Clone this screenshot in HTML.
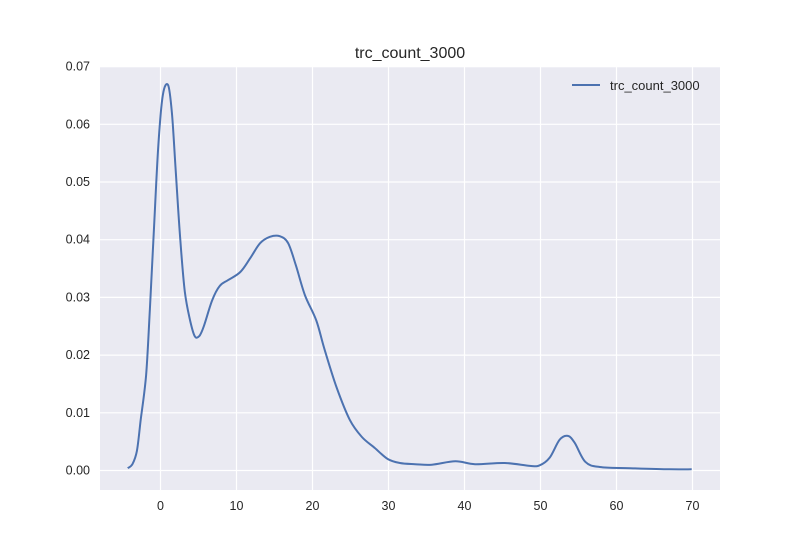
<!DOCTYPE html>
<html><head><meta charset="utf-8"><style>
body{margin:0;background:#fff;font-family:"Liberation Sans",sans-serif}
</style></head><body>
<svg id="c" width="800" height="550" xmlns="http://www.w3.org/2000/svg" font-family="Liberation Sans, sans-serif"></svg>
<script>
const xs=[-4.3,-3.7,-3.1,-2.6,-1.9,-1.4,-0.9,-0.3,0.3,1.0,1.5,2.0,2.6,3.2,3.9,4.5,5.1,5.7,6.8,7.8,8.9,10.5,11.8,13.1,14.4,15.7,16.8,17.8,19.0,20.5,21.6,23.2,24.9,26.5,28.2,29.9,31.5,33.5,35.7,38.8,41.4,45.3,48.6,49.9,51.2,52.5,53.6,54.5,55.9,57.8,61.8,67.0,69.9];
const ys=[0.0004,0.0011,0.0034,0.0088,0.0165,0.028,0.041,0.056,0.065,0.0668,0.062,0.052,0.040,0.031,0.026,0.0233,0.0233,0.025,0.0295,0.032,0.033,0.0344,0.0368,0.0394,0.0405,0.0406,0.0394,0.0356,0.0304,0.026,0.0209,0.0143,0.0088,0.0058,0.0039,0.002,0.0013,0.0011,0.001,0.0016,0.0011,0.0013,0.0008,0.0009,0.0022,0.0053,0.006,0.0048,0.0015,0.0006,0.0004,0.0002,0.0002];
const xTicks=[0,10,20,30,40,50,60,70];
const yTicks=[0,0.01,0.02,0.03,0.04,0.05,0.06,0.07];
const svg=document.getElementById('c');
const NS='http://www.w3.org/2000/svg';
const L=100,R=720,T=67,B=490;
const sx=v=>160.5+v*7.6;
const sy=v=>470.5-v*5770;
function mk(t,a,p){const e=document.createElementNS(NS,t);for(const k in a)e.setAttribute(k,a[k]);(p||svg).appendChild(e);return e;}
const bg=mk('rect',{x:L,y:T,width:R-L,height:B-T,fill:'#eaeaf2'});


xTicks.forEach(v=>{
 const g=mk('line',{x1:sx(v),x2:sx(v),y1:T,y2:B,stroke:'#fff','stroke-width':1.2});
 
 
 const t=mk('text',{x:sx(v),y:510,'text-anchor':'middle','font-size':12.5,fill:'#262626'});
 t.textContent=v;
 
 
});
yTicks.forEach(v=>{
 const g=mk('line',{x1:L,x2:R,y1:sy(v),y2:sy(v),stroke:'#fff','stroke-width':1.2});
 
 
 const t=mk('text',{x:90,y:sy(v)+4,'text-anchor':'end','font-size':12.5,fill:'#262626'});
 t.textContent=v.toFixed(2);
 
 
});
const P=xs.map((x,i)=>[sx(x),sy(ys[i])]);
let d='M'+P[0][0].toFixed(1)+','+P[0][1].toFixed(1);
for(let i=0;i<P.length-1;i++){
 const p0=P[Math.max(0,i-1)],p1=P[i],p2=P[i+1],p3=P[Math.min(P.length-1,i+2)];
 const k=1/6;
 const c1=[p1[0]+(p2[0]-p0[0])*k,p1[1]+(p2[1]-p0[1])*k];
 const c2=[p2[0]-(p3[0]-p1[0])*k,p2[1]-(p3[1]-p1[1])*k];
 d+='C'+c1.map(v=>v.toFixed(1)).join(',')+' '+c2.map(v=>v.toFixed(1)).join(',')+' '+p2.map(v=>v.toFixed(1)).join(',');
}
const p=mk('path',{d:d,fill:'none',stroke:'#4c72b0','stroke-width':2,'stroke-linejoin':'round'});


const title=mk('text',{x:410,y:58,'text-anchor':'middle','font-size':16,fill:'#262626'});
title.textContent='trc_count_3000';


const lg=mk('g',{});


mk('line',{x1:572,x2:600,y1:85,y2:85,stroke:'#4c72b0','stroke-width':2},lg);
const lt=mk('text',{x:610,y:90,'font-size':13,fill:'#262626'},lg);
lt.textContent='trc_count_3000';
</script>
</body></html>
